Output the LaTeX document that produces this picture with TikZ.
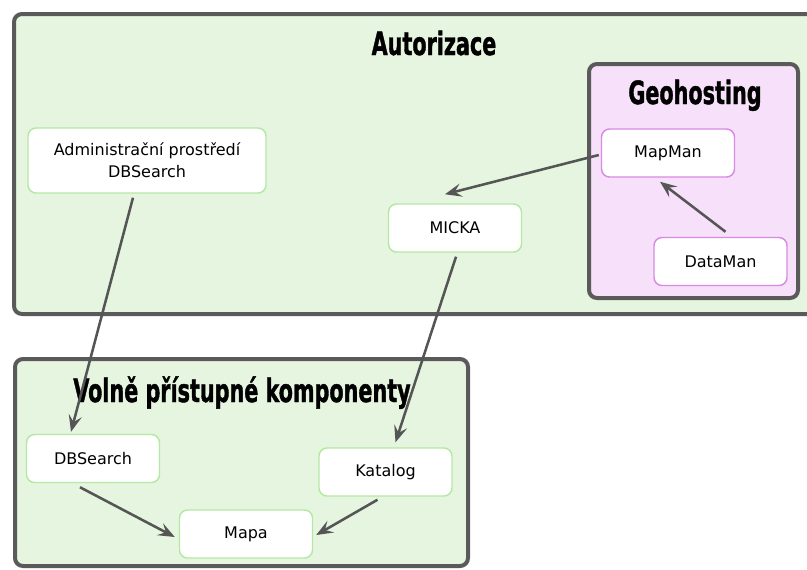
\documentclass[tikz,border=0pt]{standalone}
\usepackage{fontspec}
\setmainfont{DejaVu Sans}
\newfontfamily\titlefont{DejaVu Sans Condensed Bold}[FakeBold=1.5]
\usepackage{tikz}
\usetikzlibrary{arrows.meta,calc}

\definecolor{regiongreen}{HTML}{E5F5DF}
\definecolor{regionpink}{HTML}{F7E0FA}
\definecolor{framegray}{HTML}{5A5A5A}
\definecolor{nodegreen}{HTML}{B5E8A3}
\definecolor{nodepurple}{HTML}{D88BE3}
\definecolor{arrowgray}{HTML}{555555}

\newcommand{\regiontitle}[1]{\scalebox{0.72}[1]{\titlefont #1}}

\tikzset{
  region/.style={draw=framegray, line width=3pt, rounded corners=6pt},
  regionhead/.style={inner sep=0pt, anchor=base, font=\fontsize{24}{24}\selectfont},
  comp/.style={draw=nodegreen, fill=white, line width=1.1pt, rounded corners=6pt,
    minimum width=99.75pt, minimum height=36pt, inner sep=0pt, align=center,
    font=\fontsize{12}{16.5}\selectfont},
  geocomp/.style={comp, draw=nodepurple},
  link/.style={draw=arrowgray, line width=1.9pt,
    -{Stealth[length=12.5pt,width=10pt,inset=5pt]}}
}

\begin{document}
\begin{tikzpicture}[x=0.75pt,y=-0.75pt]
  \useasboundingbox (0,0) rectangle (807,569);

  % Autorizace region
  \draw[region, fill=regiongreen] (14,14) rectangle (822,314);
  \node[regionhead] (autorizace) at (434,55) {\regiontitle{Autorizace}};

  % Geohosting region inside it
  \draw[region, fill=regionpink] (589,64) rectangle (798,298);
  \node[regionhead] (geohosting) at (695,104) {\regiontitle{Geohosting}};

  % Volne pristupne komponenty region
  \draw[region, fill=regiongreen] (15,359) rectangle (468,566);
  \node[regionhead] (volne) at (242,402) {\regiontitle{Volně přístupné komponenty}};

  % Components
  \node[comp, minimum width=178.5pt, minimum height=48.75pt] (admin) at (147,160.5)
    {Administrační prostředí\\DBSearch};
  \node[comp] (micka) at (455,228) {MICKA};
  \node[geocomp] (mapman) at (668,153) {MapMan};
  \node[geocomp] (dataman) at (720.5,261.5) {DataMan};
  \node[comp] (dbsearch) at (93,458.5) {DBSearch};
  \node[comp] (katalog) at (385.5,472) {Katalog};
  \node[comp] (mapa) at (246,534) {Mapa};

  % Links
  \draw[link] ($(mapman.west)+(-2,2)$) -- ($(micka.north)+(-10,-9)$);
  \draw[link] ($(dataman.north)+(5,-5)$) -- ($(mapman.south)+(-8,4)$);
  \draw[link] ($(admin.south)+(-14,4)$) -- ($(dbsearch.north)+(-22,-2)$);
  \draw[link] ($(micka.south)+(1,4)$) -- ($(katalog.north)+(10,-5)$);
  \draw[link] ($(dbsearch.south)+(-13,4)$) -- ($(mapa.west)+(-4,3)$);
  \draw[link] ($(katalog.south)+(-8,3)$) -- ($(mapa.east)+(3,1)$);
\end{tikzpicture}
\end{document}
